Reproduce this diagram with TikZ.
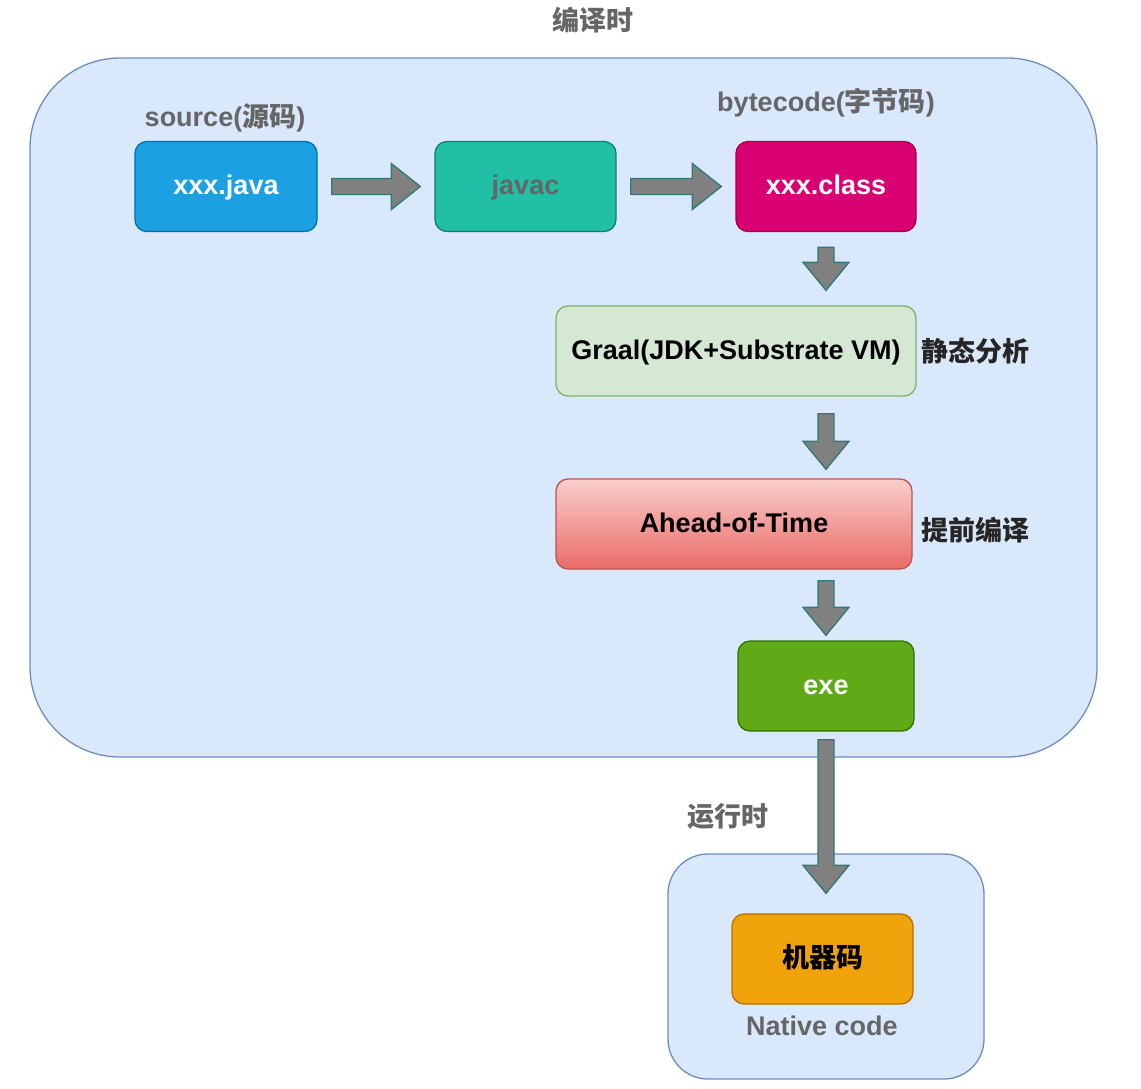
\documentclass[tikz,border=0pt]{standalone}
\usepackage{fontspec}
\setmainfont{Liberation Sans}
\newfontfamily\cjk{Noto Sans CJK SC}
\usetikzlibrary{calc}
\definecolor{contfill}{HTML}{DAE8FC}
\definecolor{contline}{HTML}{6C8EBF}
\definecolor{labgray}{HTML}{666666}
\definecolor{arrfill}{HTML}{808080}
\definecolor{arrline}{HTML}{2F7A72}
\definecolor{javafill}{HTML}{1BA1E2}
\definecolor{javaline}{HTML}{006EAF}
\definecolor{javacfill}{HTML}{21BFA4}
\definecolor{javacline}{HTML}{0E8070}
\definecolor{classfill}{HTML}{D80073}
\definecolor{classline}{HTML}{A50040}
\definecolor{graalfill}{HTML}{D5E8D4}
\definecolor{graalline}{HTML}{82B366}
\definecolor{aottop}{HTML}{F8CECC}
\definecolor{aotbot}{HTML}{EA6B66}
\definecolor{aotline}{HTML}{B85450}
\definecolor{exefill}{HTML}{60A917}
\definecolor{exeline}{HTML}{2D7600}
\definecolor{mcfill}{HTML}{F0A30A}
\definecolor{mcline}{HTML}{BD7000}
\tikzset{
  txt/.style={font=\fontsize{27}{32}\selectfont\bfseries},
  box/.style={txt, rounded corners=12, line width=1.3, minimum height=90, inner sep=0,
    text height=19, text depth=3},
  container/.style={fill=contfill, draw=contline, line width=1.3},
  lab/.style={txt, text=labgray, inner sep=0},
  side/.style={txt, text=black!85, inner sep=0, anchor=west},
  blockarrow/.style={fill=arrfill, draw=arrline, line width=1.3, line join=miter},
}
\newcommand\harr[2]{%
  \path[blockarrow] ($(#1.east)+(14,-8)$) -- ($(#2.west)+(-43,-8)$) -- ($(#2.west)+(-43,-23)$)
    -- ($(#2.west)+(-14,0)$) -- ($(#2.west)+(-43,23)$) -- ($(#2.west)+(-43,8)$)
    -- ($(#1.east)+(14,8)$) -- cycle;}
% #1 = top centre of shaft, #2 = tip
\newcommand\varr[2]{%
  \path[blockarrow] ($(#1)+(-8,0)$) -- ($(#2)+(-8,-28)$) -- ($(#2)+(-23,-28)$) -- (#2)
    -- ($(#2)+(23,-28)$) -- ($(#2)+(8,-28)$) -- ($(#1)+(8,0)$) -- cycle;}
\begin{document}
\begin{tikzpicture}[x=1pt,y=-1pt]
\useasboundingbox[fill=white] (0,0) rectangle (1141,1088);
% containers
\path[container, rounded corners=90] (30,58) rectangle (1097,757);
\path[container, rounded corners=40] (668,854) rectangle (984,1079);
\node[lab] (title) at (593,20) {\cjk 编译时};
\node[lab] (runtime) at (728,816) {\cjk 运行时};
% boxes
\node[box, minimum width=182, fill=javafill, draw=javaline, text=white] (java) at (226,186.5) {xxx.java};
\node[box, minimum width=181, fill=javacfill, draw=javacline, text=labgray] (javac) at (525.5,186.5) {javac};
\node[box, minimum width=180, fill=classfill, draw=classline, text=white] (class) at (826,186.5) {xxx.class};
\node[box, minimum width=360, fill=graalfill, draw=graalline, text=black] (graal) at (736,351) {Graal(JDK+Substrate VM)};
\node[box, minimum width=356, top color=aottop, bottom color=aotbot, draw=aotline, text=black] (aot) at (734,524) {Ahead-of-Time};
\node[box, minimum width=176, fill=exefill, draw=exeline, text=white] (exe) at (826,686) {exe};
\node[box, minimum width=181, fill=mcfill, draw=mcline, text=black] (mc) at (822.5,959) {\cjk 机器码};
% labels
\node[lab] (srclab) at (225,118) {source({\cjk 源码})};
\node[lab] (bclab) at (826,103) {bytecode({\cjk 字节码})};
\node[side] (sa) at (921,351) {\cjk 静态分析};
\node[side] (tq) at (921,530) {\cjk 提前编译};
\node[lab] (native) at (822,1026) {Native code};
% arrows
\harr{java}{javac}
\harr{javac}{class}
\varr{$(class.south)+(0,15)$}{$(class.south |- graal.north)+(0,-15)$}
\varr{$(exe.north |- graal.south)+(0,17)$}{$(exe.north |- aot.north)+(0,-9)$}
\varr{$(exe.north |- aot.south)+(0,11)$}{$(exe.north)+(0,-5)$}
\varr{$(exe.south)+(0,8)$}{$(mc.north)+(3.5,-20)$}
\end{tikzpicture}
\end{document}
